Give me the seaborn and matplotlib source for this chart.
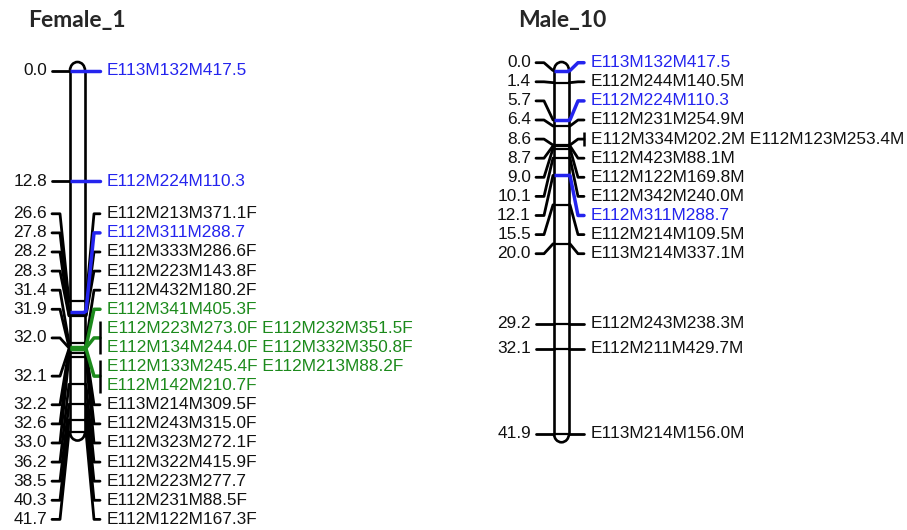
import matplotlib

matplotlib.use("Agg")

import matplotlib.pyplot as plt
import numpy as np
import seaborn as sns
from matplotlib.patches import Arc

sns.set_theme(style="white")
plt.rcParams["font.family"] = ["Liberation Sans", "DejaVu Sans"]

# ── map data ────────────────────────────────────────────────────────────────
female_pos = [0.0, 12.8, 26.6, 27.8, 28.2, 28.3, 31.4, 31.9, 32.0, 32.1,
              32.2, 32.6, 33.0, 36.2, 38.5, 40.3, 41.7]
female_markers = [
    ["E113M132M417.5"],
    ["E112M224M110.3"],
    ["E112M213M371.1F"],
    ["E112M311M288.7"],
    ["E112M333M286.6F"],
    ["E112M223M143.8F"],
    ["E112M432M180.2F"],
    ["E112M341M405.3F"],
    ["E112M223M273.0F", "E112M232M351.5F", "E112M134M244.0F", "E112M332M350.8F"],
    ["E112M133M245.4F", "E112M213M88.2F", "E112M142M210.7F"],
    ["E113M214M309.5F"],
    ["E112M243M315.0F"],
    ["E112M323M272.1F"],
    ["E112M322M415.9F"],
    ["E112M223M277.7"],
    ["E112M231M88.5F"],
    ["E112M122M167.3F"],
]
female_kind = ["shared", "shared", "", "shared", "", "", "", "cluster",
               "cluster", "cluster", "", "", "", "", "", "", ""]

male_pos = [0.0, 1.4, 5.7, 6.4, 8.6, 8.7, 9.0, 10.1, 12.1, 15.5, 20.0,
            29.2, 32.1, 41.9]
male_markers = [
    ["E113M132M417.5"],
    ["E112M244M140.5M"],
    ["E112M224M110.3"],
    ["E112M231M254.9M"],
    ["E112M334M202.2M", "E112M123M253.4M"],
    ["E112M423M88.1M"],
    ["E112M122M169.8M"],
    ["E112M342M240.0M"],
    ["E112M311M288.7"],
    ["E112M214M109.5M"],
    ["E113M214M337.1M"],
    ["E112M243M238.3M"],
    ["E112M211M429.7M"],
    ["E113M214M156.0M"],
]
male_kind = ["shared", "", "shared", "", "", "", "", "", "shared", "", "",
             "", "", ""]

# ── layout ──────────────────────────────────────────────────────────────────
PX_PER_CM = 8.67
ROW = 19.1 / PX_PER_CM          # label row height in cM
TOP_SLACK = 0.9                 # labels may rise this far above 0 cM
PER_LINE = 2                    # marker names per label line
W = 15                          # chromosome width (px)
COLORS = {"shared": "#2424ee", "cluster": "#1c8a1c", "": "black"}
FS = 12.4


def spread_labels(pos, nlines):
    clusters = [[i] for i in range(len(pos))]
    top = min(pos) - TOP_SLACK

    def place(cl):
        n = sum(nlines[i] for i in cl)
        mid = (pos[cl[0]] + pos[cl[-1]]) / 2
        first = max(mid - (n - 1) * ROW / 2, top)
        return first, first + (n - 1) * ROW

    changed = True
    while changed:
        changed = False
        for k in range(len(clusters) - 1):
            a, b = place(clusters[k]), place(clusters[k + 1])
            if b[0] - a[1] < ROW - 1e-9:
                clusters[k] = clusters[k] + clusters.pop(k + 1)
                changed = True
                break
    out = {}
    for cl in clusters:
        first, _ = place(cl)
        k = 0
        for i in cl:
            out[i] = [first + (k + j) * ROW for j in range(nlines[i])]
            k += nlines[i]
    return [out[i] for i in range(len(pos))]


def draw_map(ax, cx, pos, markers, kinds):
    nlines = [int(np.ceil(len(m) / PER_LINE)) for m in markers]
    rows = spread_labels(pos, nlines)
    end = max(pos)
    cap = 8.5 / PX_PER_CM

    # chromosome body
    ax.plot([cx, cx], [0, end], color="black", lw=1.9, zorder=3)
    ax.plot([cx + W, cx + W], [0, end], color="black", lw=1.9, zorder=3)
    ax.add_patch(Arc((cx + W / 2, 0), W, 2 * cap, theta1=180, theta2=360,
                     color="black", lw=1.9, zorder=3))
    ax.add_patch(Arc((cx + W / 2, end), W, 2 * cap, theta1=0, theta2=180,
                     color="black", lw=1.9, zorder=3))

    order = sorted(range(len(pos)), key=lambda i: kinds[i] != "")
    for i in order:
        p, ly, col = pos[i], rows[i], COLORS[kinds[i]]
        yc = float(np.mean(ly))
        lw = 2.5 if kinds[i] else 1.6
        z = 5 if kinds[i] else 4

        # marker tick across the chromosome
        ax.plot([cx, cx + W], [p, p], color=col, lw=lw, zorder=z,
                solid_capstyle="butt")

        # left: position label + connector
        ax.plot([cx - 18, cx - 10, cx - 1, cx], [yc, yc, p, p],
                color="black", lw=2.0, zorder=2)
        ax.text(cx - 23, yc, f"{p:.1f}", ha="right", va="center",
                fontsize=FS, color="#111111")

        # right: connector + marker names
        ax.plot([cx + W, cx + W + 1, cx + W + 9, cx + W + 15],
                [p, p, yc, yc], color=col, lw=2.5 if kinds[i] else 2.0,
                zorder=z)
        if len(markers[i]) > 1:
            ax.plot([cx + W + 15, cx + W + 15],
                    [ly[0] - 0.8, ly[-1] + 0.8], color="black", lw=1.8,
                    zorder=z, solid_capstyle="butt")
        for j, y in enumerate(ly):
            names = markers[i][j * PER_LINE:(j + 1) * PER_LINE]
            ax.text(cx + W + 22, y, " ".join(names), ha="left", va="center",
                    fontsize=FS, color=col if kinds[i] else "#111111")


fig = plt.figure(figsize=(9.07, 5.30), dpi=100)
ax = fig.add_axes([0, 0, 1, 1])
ax.set_xlim(0, 907)
ax.set_ylim((530 - 70.5) / PX_PER_CM, -70.5 / PX_PER_CM)
ax.axis("off")

draw_map(ax, 70, female_pos, female_markers, female_kind)
draw_map(ax, 554, male_pos, male_markers, male_kind)

fig.text(28 / 907, 1 - 20 / 530, "Female_1", ha="left", va="center",
         fontsize=16.5, fontweight="bold", family=["Lato", "DejaVu Sans"])
fig.text(518 / 907, 1 - 20 / 530, "Male_10", ha="left", va="center",
         fontsize=16.5, fontweight="bold", family=["Lato", "DejaVu Sans"])

fig.savefig("out.png", dpi=100, facecolor="white")
plt.close(fig)
